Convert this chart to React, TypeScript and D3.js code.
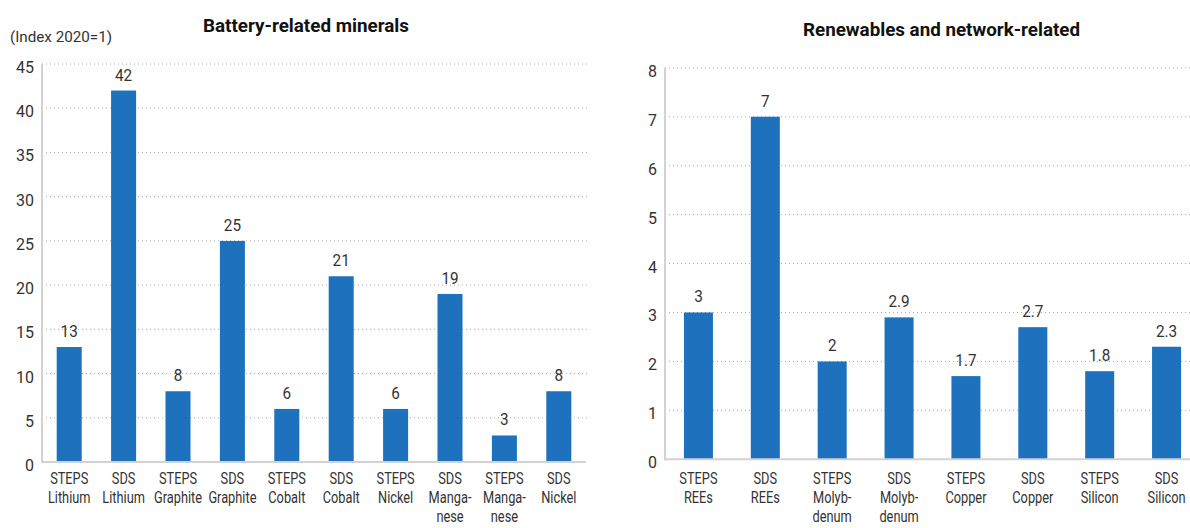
import React from "react";
import * as d3 from "d3";

const batteryCategories: string[][] = [
  ["STEPS", "Lithium"],
  ["SDS", "Lithium"],
  ["STEPS", "Graphite"],
  ["SDS", "Graphite"],
  ["STEPS", "Cobalt"],
  ["SDS", "Cobalt"],
  ["STEPS", "Nickel"],
  ["SDS", "Manga-", "nese"],
  ["STEPS", "Manga-", "nese"],
  ["SDS", "Nickel"],
];
const batteryValues: number[] = [13, 42, 8, 25, 6, 21, 6, 19, 3, 8];
const batteryTicks: number[] = [0, 5, 10, 15, 20, 25, 30, 35, 40, 45];

const renewCategories: string[][] = [
  ["STEPS", "REEs"],
  ["SDS", "REEs"],
  ["STEPS", "Molyb-", "denum"],
  ["SDS", "Molyb-", "denum"],
  ["STEPS", "Copper"],
  ["SDS", "Copper"],
  ["STEPS", "Silicon"],
  ["SDS", "Silicon"],
];
const renewValues: number[] = [3, 7, 2, 2.9, 1.7, 2.7, 1.8, 2.3];
const renewTicks: number[] = [0, 1, 2, 3, 4, 5, 6, 7, 8];

const BAR = "#1e72bd";
const TEXT = "#333333";
const FONT = "Roboto, 'Liberation Sans', sans-serif";

function SText({ x, y, sx = 1, anchor = "middle", size = 16, weight = 400, children }: any) {
  return (
    <text
      transform={`translate(${x},${y}) scale(${sx},1)`}
      textAnchor={anchor}
      fontSize={size}
      fontWeight={weight}
      fill={TEXT}
      fontFamily={FONT}
    >
      {children}
    </text>
  );
}

function Panel({ cats, vals, ticks, x0, x1, y0, yTop, maxV, padInner, title, titleX, titleY, titleLen, gridEnd }: any) {
  const labels = cats.map((c: string[]) => c.join(" "));
  const x = d3.scaleBand<string>().domain(labels).range([x0, x1]).paddingInner(padInner).paddingOuter(padInner / 2);
  const y = d3.scaleLinear().domain([0, maxV]).range([y0, yTop]);
  const fmt = (v: number) => (Number.isInteger(v) ? String(v) : v.toFixed(1));
  return (
    <g>
      <text
        x={titleX}
        y={titleY}
        textAnchor="middle"
        fontSize={19}
        fontWeight={700}
        fill="#111"
        fontFamily={FONT}
        textLength={titleLen}
        lengthAdjust="spacingAndGlyphs"
      >
        {title}
      </text>
      {ticks.filter((t: number) => t > 0).map((t: number) => (
        <line key={"g" + t} x1={x0} x2={gridEnd} y1={y(t)} y2={y(t)} stroke="#a8a8a8" strokeWidth={1} strokeDasharray="1,3" />
      ))}
      {ticks.map((t: number) => (
        <SText key={"t" + t} x={x0 - 8} y={y(t) + 9} anchor="end" size={16}>
          {String(t)}
        </SText>
      ))}
      {vals.map((v: number, i: number) => (
        <rect key={"b" + i} x={x(labels[i])} y={y(v)} width={x.bandwidth()} height={y0 - y(v)} fill={BAR} />
      ))}
      {vals.map((v: number, i: number) => (
        <SText key={"v" + i} x={(x(labels[i]) as number) + x.bandwidth() / 2} y={y(v) - 10} size={17} sx={0.9}>
          {fmt(v)}
        </SText>
      ))}
      <line x1={x0} x2={x0} y1={yTop} y2={y0 + 1} stroke="#d2d2d2" strokeWidth={2} />
      <line x1={x0 - 1} x2={x1} y1={y0} y2={y0} stroke="#d2d2d2" strokeWidth={2} />
      {cats.map((c: string[], i: number) =>
        c.map((line: string, j: number) => (
          <SText key={"c" + i + "-" + j} x={(x(labels[i]) as number) + x.bandwidth() / 2} y={484 + j * 19.2} size={16} sx={0.8}>
            {line}
          </SText>
        ))
      )}
    </g>
  );
}

export default function App() {
  return (
    <svg width={1190} height={528} style={{ position: "absolute", left: 0, top: 0, background: "#fff" }}>
      <rect width={1190} height={528} fill="#fff" />
      <text x={10} y={42.3} fontSize={15} fill={TEXT} fontFamily={FONT} textLength={102} lengthAdjust="spacingAndGlyphs">
        (Index 2020=1)
      </text>
      <Panel
        cats={batteryCategories}
        vals={batteryValues}
        ticks={batteryTicks}
        x0={42}
        x1={586}
        y0={462}
        yTop={64}
        maxV={45}
        padInner={0.54}
        title="Battery-related minerals"
        titleX={306}
        titleY={32.3}
        titleLen={206}
        gridEnd={588}
      />
      <Panel
        cats={renewCategories}
        vals={renewValues}
        ticks={renewTicks}
        x0={665}
        x1={1200}
        y0={459.3}
        yTop={67.8}
        maxV={8}
        padInner={0.566}
        title="Renewables and network-related"
        titleX={941.5}
        titleY={36}
        titleLen={277}
        gridEnd={1190}
      />
    </svg>
  );
}
